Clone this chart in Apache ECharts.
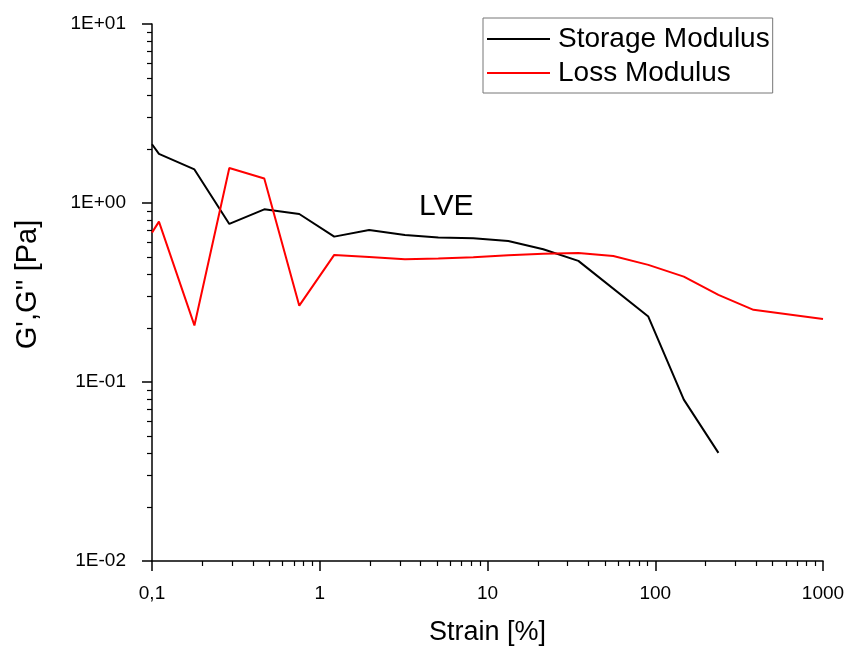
<!DOCTYPE html>
<html>
<head>
<meta charset="utf-8">
<title>Amplitude sweep</title>
<script src="https://cdn.jsdelivr.net/npm/echarts@6/dist/echarts.min.js"></script>
<style>
  html, body { margin: 0; padding: 0; background: #fff; }
  #chart { width: 851px; height: 651px; }
</style>
</head>
<body>
<div id="chart"></div>
<script>
// 数据：应变 [%] 与模量 [Pa]
var storageStrain = [0.1, 0.11, 0.179, 0.289, 0.467, 0.755, 1.22, 1.97, 3.22, 5.09, 8.23, 13.3, 21.5, 34.8, 90.9, 148, 238];
var storageValues = [2.13, 1.88, 1.54, 0.764, 0.922, 0.868, 0.649, 0.707, 0.663, 0.641, 0.636, 0.614, 0.552, 0.475, 0.232, 0.0797, 0.0402];
var lossStrain = [0.1, 0.11, 0.179, 0.289, 0.467, 0.755, 1.22, 1.97, 3.22, 5.09, 8.23, 13.3, 21.5, 34.8, 56.2, 90.9, 148, 238, 385, 1000];
var lossValues = [0.683, 0.787, 0.207, 1.57, 1.37, 0.267, 0.513, 0.50, 0.485, 0.49, 0.498, 0.51, 0.52, 0.526, 0.506, 0.451, 0.388, 0.307, 0.253, 0.225];
var seriesNames = ["Storage Modulus", "Loss Modulus"];

(function () {
    var font = "'Liberation Sans', Arial, sans-serif";
    var myChart = echarts.init(document.getElementById("chart"));

    function pairs(xs, ys) {
        return xs.map(function (x, i) { return [x, ys[i]]; });
    }

    // 1E+01 形式的刻度标签
    function expLabel(v) {
        var e = Math.round(Math.log10(v));
        var s = Math.abs(e) < 10 ? "0" + Math.abs(e) : "" + Math.abs(e);
        return "1E" + (e < 0 ? "-" : "+") + s;
    }

    // 0.1 显示为 0,1
    function strainLabel(v) {
        var e = Math.round(Math.log10(v));
        if (e < 0) return String(Math.pow(10, e).toFixed(-e)).replace(".", ",");
        return String(Math.pow(10, e));
    }

    var axisCommon = {
        type: 'log',
        logBase: 10,
        axisLine: { show: true, lineStyle: { color: '#000', width: 1.5 } },
        axisTick: { show: true, inside: false, length: 10, lineStyle: { color: '#000', width: 1.5 } },
        minorTick: { show: true, splitNumber: 9, length: 5, lineStyle: { color: '#000', width: 1.2 } },
        splitLine: { show: false },
        minorSplitLine: { show: false }
    };

    var option = {
        animation: false,
        backgroundColor: '#fff',
        grid: { left: 152, right: 28, top: 24, bottom: 89, containLabel: false },
        legend: {
            orient: 'vertical',
            left: 483,
            top: 18,
            data: seriesNames,
            icon: 'rect',
            itemWidth: 63,
            itemHeight: 2,
            itemGap: 6,
            padding: [7, 3, 6, 4],
            borderColor: '#777',
            borderWidth: 1,
            textStyle: { color: '#000', fontSize: 28, fontFamily: font, padding: [0, 0, 0, 3] }
        },
        xAxis: Object.assign({}, axisCommon, {
            min: 0.1,
            max: 1000,
            name: 'Strain [%]',
            nameLocation: 'middle',
            nameGap: 58,
            nameTextStyle: { color: '#000', fontSize: 27, fontFamily: font },
            axisLabel: { color: '#000', fontSize: 19, fontFamily: font, margin: 23, formatter: strainLabel }
        }),
        yAxis: Object.assign({}, axisCommon, {
            min: 0.01,
            max: 10,
            name: "G',G'' [Pa]",
            nameLocation: 'middle',
            nameGap: 110,
            nameTextStyle: { color: '#000', fontSize: 29, fontFamily: font, padding: [0, 0, 0, 16] },
            axisLabel: { color: '#000', fontSize: 19, fontFamily: font, margin: 26, formatter: expLabel }
        }),
        graphic: [{
            type: 'text',
            left: 419,
            top: 192,
            style: { text: 'LVE', fill: '#000', fontSize: 30, fontFamily: font }
        }],
        series: [
            {
                name: seriesNames[0],
                type: 'line',
                data: pairs(storageStrain, storageValues),
                symbol: 'none',
                color: '#000000',
                lineStyle: { color: '#000000', width: 2 }
            },
            {
                name: seriesNames[1],
                type: 'line',
                data: pairs(lossStrain, lossValues),
                symbol: 'none',
                color: '#ff0000',
                lineStyle: { color: '#ff0000', width: 2 }
            }
        ]
    };
    myChart.setOption(option);
    window.addEventListener("resize", function () {
        myChart.resize();
    });
})();
</script>
</body>
</html>
